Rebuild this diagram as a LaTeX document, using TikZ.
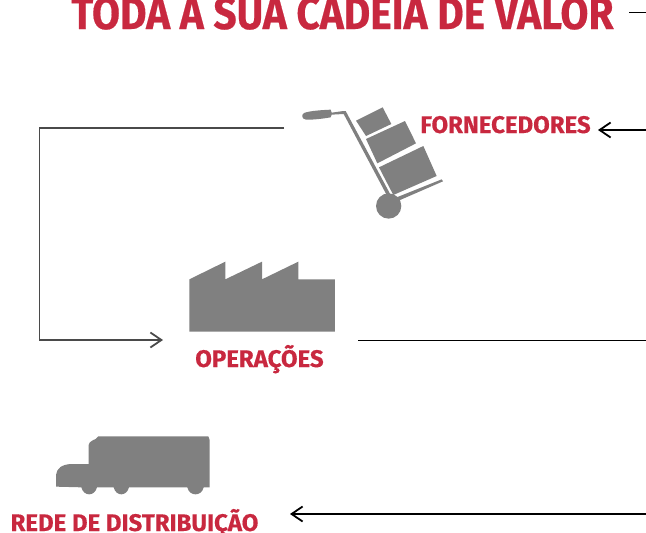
\documentclass[tikz,border=0pt]{standalone}
\usepackage{fontspec}
\setmainfont{Fira Sans}[BoldFeatures={FakeBold=0.4}]
\newfontfamily\titlefont{Fira Sans}[FakeStretch=0.9,BoldFeatures={FakeBold=0.4}]
\usetikzlibrary{arrows.meta}
\definecolor{brandred}{HTML}{C8283F}
\definecolor{icongrey}{HTML}{808080}
\definecolor{linkgrey}{HTML}{4A4A4A}
\tikzset{
  redlabel/.style={text=brandred,font=\bfseries\fontsize{24}{26}\selectfont,inner sep=0pt,anchor=base},
  titlelabel/.style={text=brandred,font=\titlefont\bfseries\fontsize{45.2}{47}\selectfont,inner sep=0pt,anchor=base},
  icon/.style={fill=icongrey,draw=none},
  link/.style={draw=black,line width=1.2pt},
  tipend/.style={-{Straight Barb[length=11pt,width=15pt,line width=1.8pt]}},
  greylink/.style={draw=linkgrey,line width=1.1pt},
  z/.style={shift={#1},scale=1/3}
}
\begin{document}
\begin{tikzpicture}[x=1pt,y=-1pt]
\useasboundingbox (0,0) rectangle (646,533);
\clip (0,0) rectangle (646,533);
% title and labels
\node[titlelabel] (title) at (342.5,29) {TODA A SUA CADEIA DE VALOR};
\node[redlabel] (forn) at (505.5,133) {FORNECEDORES};
\node[redlabel] (oper) at (259.5,367) {OPERAÇÕES};
\node[redlabel] (rede) at (134.5,531) {REDE DE DISTRIBUIÇÃO};
% trolley
\begin{scope}[z={(280,90)}]
\fill[icon] (72,69) .. controls (90,62) and (130,60) .. (152,59) -- (155,68) -- (190,63) -- (197,63) -- (332,315) -- (320,315) -- (191,72) -- (155,74) -- (152,82) .. controls (130,86) and (95,90) .. (78,89) .. controls (64,87) and (64,73) .. (72,69) -- cycle;
\fill[icon] (326,348) circle (38);
\fill[icon] (350,322) -- (485,268) -- (489,274) -- (358,331) -- cycle;
\fill[icon] (228,92) -- (308,52) -- (334,102) -- (258,138) -- cycle;
\fill[icon] (258,147) -- (375,93) -- (408,160) -- (292,220) -- cycle;
\fill[icon] (297,232) -- (430,168) -- (470,258) -- (340,315) -- cycle;
\end{scope}
% factory
\begin{scope}[z={(140,250)}]
\fill[icon] (148,88) -- (256,35) -- (256,88) -- (366,35) -- (366,88) -- (475,35) -- (475,88) -- (585,88) -- (585,245) -- (148,245) -- cycle;
\end{scope}
% truck
\begin{scope}[z={(30,425)}]
\fill[icon] (78,185) -- (78,150) .. controls (80,130) and (95,118) .. (125,117) -- (176,117) -- (176,60) .. controls (177,50) and (190,45) .. (197,42) -- (205,34) -- (535,34) -- (539,45) -- (539,187) -- (521,187) .. controls (515,215) and (478,215) .. (472,187) -- (297,187) .. controls (290,215) and (258,215) .. (251,187) -- (201,187) .. controls (194,215) and (161,215) .. (154,187) -- cycle;
\end{scope}
% connectors
\coordinate (e1) at (646,12.5);
\coordinate (e1b) at (629,12.5);
\coordinate (e2) at (646,130);
\coordinate (e2b) at (598,130);
\coordinate (e3) at (646,340.5);
\coordinate (e3b) at (358,340.5);
\coordinate (e4) at (646,514);
\coordinate (e4b) at (290,514);
\coordinate (g1) at (284,128);
\coordinate (g2) at (39.5,128);
\coordinate (g3) at (39.5,340);
\coordinate (g4) at (163,340);
\draw[link] (e1) -- (e1b);
\draw[link,tipend] (e2) -- (e2b);
\draw[link] (e3) -- (e3b);
\draw[link,tipend] (e4) -- (e4b);
\draw[greylink,tipend] (g1) -- (g2) -- (g3) -- (g4);
\end{tikzpicture}
\end{document}
